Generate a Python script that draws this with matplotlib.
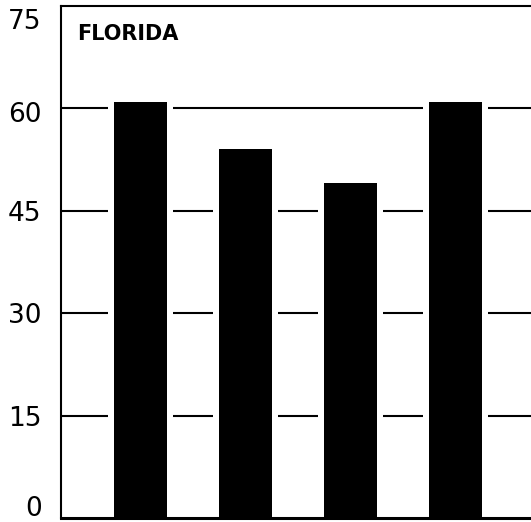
import numpy as np
import matplotlib.pyplot as plt
import matplotlib.transforms as mtransforms

# Werte aus der Vorlage
state = "FLORIDA"
values = [61, 54, 49, 61]
yticks = [0, 15, 30, 45, 60, 75]

fig = plt.figure(figsize=(5.31, 5.22), dpi=100)
ax = fig.add_axes([61 / 531, 4 / 522, 470 / 531, 512 / 522])

x = np.arange(len(values))

# Gitterlinien mit Luecken neben den Balken
for t in yticks[1:-1]:
    ax.axhline(t, color="black", lw=1.5, zorder=1)
ax.bar(x, values, width=0.62, color="white", zorder=2)
ax.bar(x, values, width=0.514, color="black", zorder=3)

ax.set_xlim(-0.757, 3.719)
ax.set_ylim(0, 75)
ax.set_xticks([])
ax.set_yticks(yticks)
ax.set_yticklabels([str(t) for t in yticks], fontsize=19)
ax.tick_params(axis="y", length=0, pad=14)

# Beschriftungen oben und unten etwas nach innen schieben
shifts = {0: 12, 60: -4, 75: -13}
for t, lab in zip(yticks, ax.get_yticklabels()):
    dy = shifts.get(t, 0)
    if dy:
        off = mtransforms.ScaledTranslation(0, dy / 100, fig.dpi_scale_trans)
        lab.set_transform(lab.get_transform() + off)

for s in ["left", "top", "bottom"]:
    ax.spines[s].set_linewidth(1.5)
ax.spines["bottom"].set_linewidth(2.2)
ax.spines["right"].set_visible(False)

ax.text(0.034, 0.945, state, transform=ax.transAxes, fontsize=15,
        fontweight="bold", va="center", ha="left")

fig.savefig("out.png", dpi=100)
